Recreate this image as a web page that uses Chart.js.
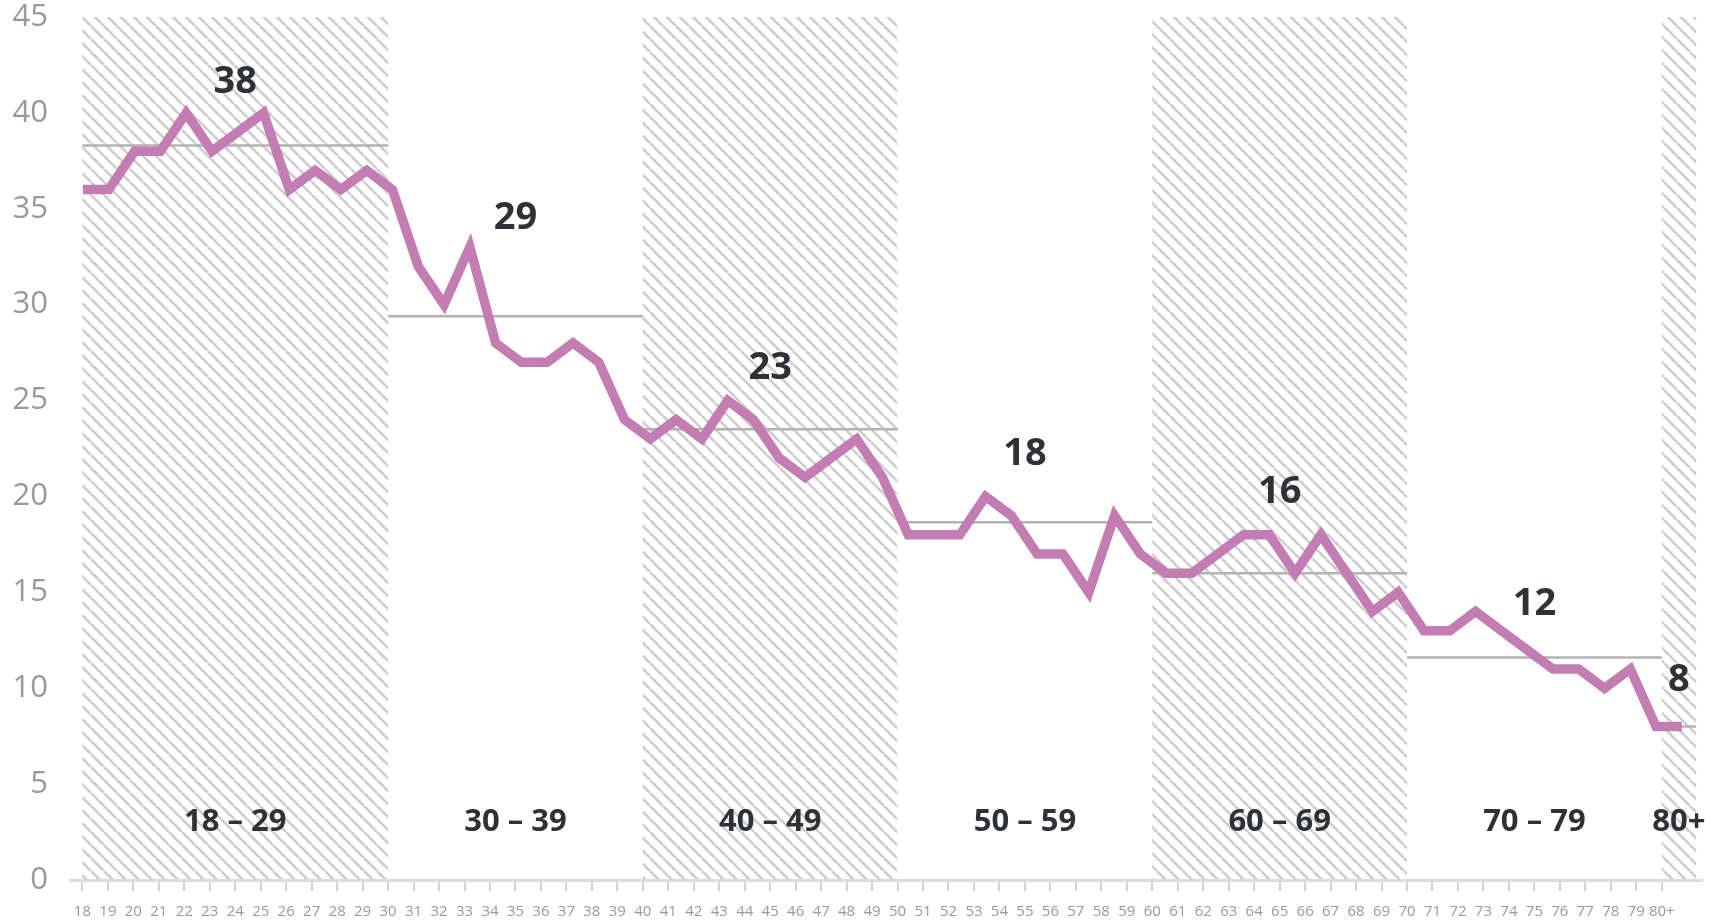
<!DOCTYPE html>
<html>
<head>
<meta charset="utf-8">
<script src="https://cdn.jsdelivr.net/npm/chart.js@4"></script>
<style>
  html, body { margin: 0; padding: 0; background: #fff; }
  .chart-wrapper { width: 1723px; height: 923px; position: relative; }
</style>
</head>
<body>
<div class="chart-wrapper"><canvas id="ageChart"></canvas></div>
<script>
// ages 18 .. 80+
const ageLabels = [
  "18", "19", "20", "21", "22", "23", "24", "25", "26", "27", "28", "29",
  "30", "31", "32", "33", "34", "35", "36", "37", "38", "39",
  "40", "41", "42", "43", "44", "45", "46", "47", "48", "49",
  "50", "51", "52", "53", "54", "55", "56", "57", "58", "59",
  "60", "61", "62", "63", "64", "65", "66", "67", "68", "69",
  "70", "71", "72", "73", "74", "75", "76", "77", "78", "79",
  "80+",
];

const shareValues = [
  36, 36, 38, 38, 40, 38, 39, 40, 36, 37, 36, 37,
  36, 32, 30, 33, 28, 27, 27, 28, 27, 24,
  23, 24, 23, 25, 24, 22, 21, 22, 23, 21,
  18, 18, 18, 20, 19, 17, 17, 15, 19, 17,
  16, 16, 17, 18, 18, 16, 18, 16, 14, 15,
  13, 13, 14, 13, 12, 11, 11, 10, 11, 8,
  8,
];

// age groups
const bandNames = ["18 – 29", "30 – 39", "40 – 49", "50 – 59", "60 – 69", "70 – 79", "80+"];
const bandStart = [18, 30, 40, 50, 60, 70, 80];
const bandEnd = [30, 40, 50, 60, 70, 80, 81.35];
const bandHatched = [true, false, true, false, true, false, true];
const bandAverage = [38.3, 29.4, 23.5, 18.65, 16.0, 11.6, 8.0];
const bandValueText = ["38", "29", "23", "18", "16", "12", "8"];
const bandValueY = [41.6, 34.5, 26.7, 22.2, 20.2, 14.4, 10.4];
const bandNameY = 3.0;

const yTicks = [0, 5, 10, 15, 20, 25, 30, 35, 40, 45];

const FONT = "'Open Sans', 'Noto Sans', sans-serif";

function makeHatch(ctx) {
  const s = 13;
  const c = document.createElement("canvas");
  c.width = s;
  c.height = s;
  const p = c.getContext("2d");
  p.strokeStyle = "#cdcdcd";
  p.lineWidth = 2.6;
  for (let k = -1; k <= 1; k++) {
    p.beginPath();
    p.moveTo(k * s, 0);
    p.lineTo(k * s + s, s);
    p.stroke();
  }
  return ctx.createPattern(c, "repeat");
}

const bandsPlugin = {
  id: "bands",
  beforeDraw(chart) {
    const { ctx, chartArea, scales } = chart;
    const x = scales.x;
    const pattern = makeHatch(ctx);
    ctx.save();
    ctx.fillStyle = pattern;
    bandStart.forEach((start, i) => {
      if (!bandHatched[i]) return;
      const left = x.getPixelForValue(start);
      const right = x.getPixelForValue(bandEnd[i]);
      ctx.fillRect(left, chartArea.top, right - left, chartArea.bottom - chartArea.top);
    });
    ctx.restore();
  },
  afterDatasetsDraw(chart) {
    const { ctx, scales } = chart;
    const x = scales.x;
    const y = scales.y;
    ctx.save();
    ctx.fillStyle = "#2e3135";
    ctx.textAlign = "center";
    ctx.textBaseline = "middle";
    bandStart.forEach((start, i) => {
      const cx = x.getPixelForValue((start + bandEnd[i]) / 2);
      ctx.font = "700 38px " + FONT;
      ctx.fillText(bandValueText[i], cx, y.getPixelForValue(bandValueY[i]));
      ctx.font = "700 31px " + FONT;
      ctx.fillText(bandNames[i], cx, y.getPixelForValue(bandNameY));
    });
    ctx.restore();
  },
};

const averageSets = bandAverage.map((avg, i) => ({
  data: [
    { x: bandStart[i], y: avg },
    { x: bandEnd[i], y: avg },
  ],
  xAxisID: "x",
  borderColor: "#b3b3b3",
  borderWidth: 2.5,
  pointRadius: 0,
  order: 2,
}));

const ctx = document.getElementById("ageChart");

new Chart(ctx, {
  type: "line",
  data: {
    datasets: [
      {
        label: "Share",
        data: shareValues.map((v, i) => ({ x: 18 + i, y: v })),
        xAxisID: "x2",
        borderColor: "#c47db3",
        borderWidth: 9.5,
        borderJoinStyle: "miter",
        borderCapStyle: "butt",
        tension: 0,
        pointRadius: 0,
        order: 1,
      },
      ...averageSets,
    ],
  },
  options: {
    responsive: true,
    maintainAspectRatio: false,
    animation: false,
    layout: {
      padding: { top: 0, right: 21, bottom: 0, left: 0 },
    },
    plugins: {
      legend: { display: false },
      tooltip: { enabled: false },
    },
    scales: {
      x: {
        type: "linear",
        min: 17.513,
        max: 81.58,
        afterBuildTicks: (axis) => {
          axis.ticks = ageLabels.map((_, i) => ({ value: 18 + i }));
        },
        afterFit: (axis) => {
          axis.height = 43;
        },
        ticks: {
          autoSkip: false,
          maxRotation: 0,
          padding: 12,
          color: "#9a9a9a",
          font: { family: FONT, size: 15 },
          callback: (value, index) => ageLabels[index],
        },
        grid: {
          drawOnChartArea: false,
          drawTicks: true,
          tickLength: 11,
          color: "#d2d2d2",
          lineWidth: 2,
        },
        border: { display: true, color: "#dcdcdc", width: 3 },
      },
      x2: {
        type: "linear",
        display: false,
        min: 17.496,
        max: 80.78,
      },
      y: {
        min: 0,
        max: 45,
        afterBuildTicks: (axis) => {
          axis.ticks = yTicks.map((v) => ({ value: v }));
        },
        afterFit: (axis) => {
          axis.width = 70;
          axis.paddingTop = 17;
          axis.paddingBottom = 0;
        },
        ticks: {
          padding: 22,
          color: "#999999",
          font: { family: FONT, size: 31 },
        },
        grid: { display: false, drawTicks: false },
        border: { display: false },
      },
    },
  },
  plugins: [bandsPlugin],
});
</script>
</body>
</html>
